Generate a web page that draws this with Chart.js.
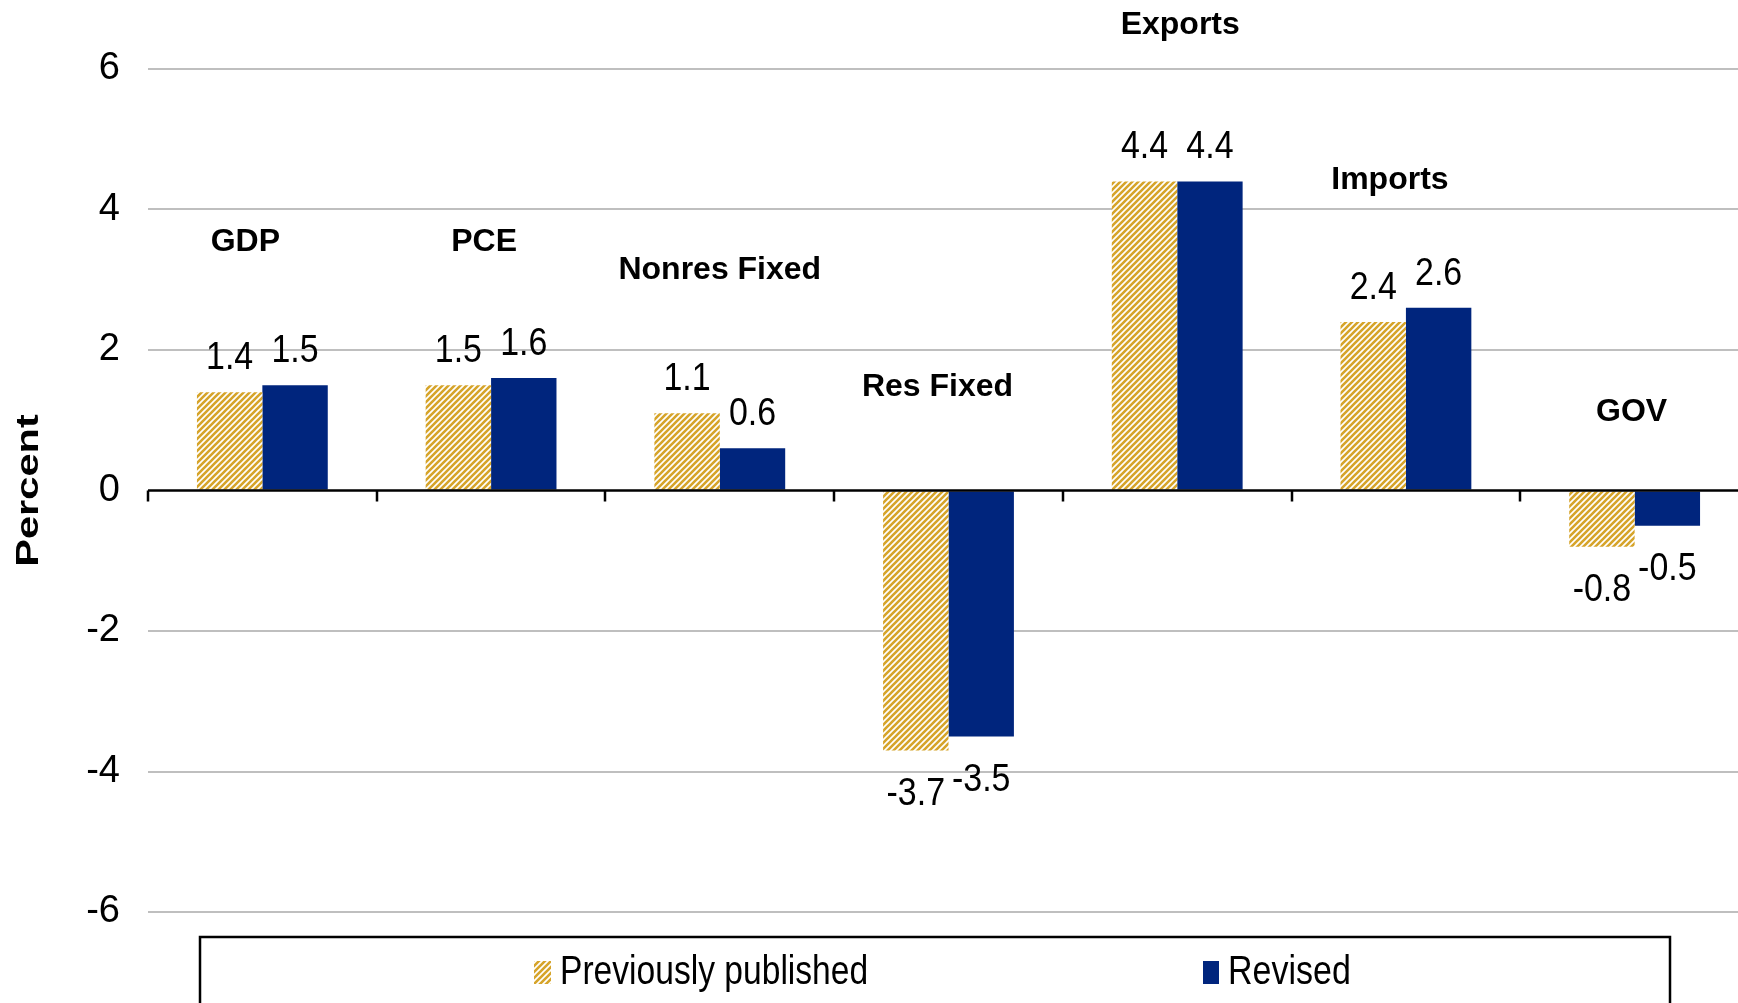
<!DOCTYPE html>
<html>
<head>
<meta charset="utf-8">
<script src="https://cdn.jsdelivr.net/npm/chart.js@4.4.1/dist/chart.umd.min.js"></script>
<style>
  html, body { margin: 0; padding: 0; background: #fff; overflow: hidden; }
  #wrap { width: 1750px; height: 1003px; position: relative; }
</style>
</head>
<body>
<div id="wrap"><canvas id="Chart"></canvas></div>
<script>
// data
const categories = ["GDP", "PCE", "Nonres Fixed", "Res Fixed", "Exports", "Imports", "GOV"];
const previouslyPublished = [1.4, 1.5, 1.1, -3.7, 4.4, 2.4, -0.8];
const revised = [1.5, 1.6, 0.6, -3.5, 4.4, 2.6, -0.5];
const yTicks = [-6, -4, -2, 0, 2, 4, 6];
// where the bold category names sit: height in axis units, nudge in px
const catLabelY = [3.53, 3.53, 3.13, 1.47, 6.62, 4.42, 1.12];
const catLabelDx = [-17, -7, 0, -11, 3, -16, -3];

const FONT = '"Liberation Sans", Arial, sans-serif';
const GOLD = "#D6A42A";
const BLUE = "#00257D";

// diagonal gold hatch like the excel pattern fill
function makeHatch() {
  const s = 6;
  const c = document.createElement("canvas");
  c.width = s;
  c.height = s;
  const g = c.getContext("2d");
  g.fillStyle = "#fff";
  g.fillRect(0, 0, s, s);
  g.strokeStyle = GOLD;
  g.lineWidth = 2.6;
  g.beginPath();
  g.moveTo(0, s);
  g.lineTo(s, 0);
  g.moveTo(-1, 1);
  g.lineTo(1, -1);
  g.moveTo(s - 1, s + 1);
  g.lineTo(s + 1, s - 1);
  g.stroke();
  return g.createPattern(c, "repeat");
}
const hatch = makeHatch();

function drawText(ctx, text, x, y, font, sx, align, baseline) {
  ctx.save();
  ctx.translate(x, y);
  ctx.scale(sx, 1);
  ctx.font = font;
  ctx.fillStyle = "#000";
  ctx.textAlign = align;
  ctx.textBaseline = baseline;
  ctx.fillText(text, 0, 0);
  ctx.restore();
}

const extras = {
  id: "extras",
  afterDatasetsDraw(chart) {
    const ctx = chart.ctx;
    const area = chart.chartArea;
    const x = chart.scales.x;
    const y = chart.scales.y;
    const y0 = y.getPixelForValue(0);
    const step = (area.right - area.left) / categories.length;

    // zero line with category tick marks hanging below it
    ctx.save();
    ctx.strokeStyle = "#000";
    ctx.lineWidth = 2.5;
    ctx.beginPath();
    ctx.moveTo(area.left, y0);
    ctx.lineTo(area.right, y0);
    for (let i = 0; i <= categories.length; i++) {
      const tx = Math.round(area.left + i * step);
      ctx.moveTo(tx, y0);
      ctx.lineTo(tx, y0 + 11);
    }
    ctx.stroke();
    ctx.restore();

    // value labels
    chart.data.datasets.forEach((ds, di) => {
      const meta = chart.getDatasetMeta(di);
      meta.data.forEach((bar, i) => {
        const v = ds.data[i];
        const ly = v >= 0 ? bar.y - 34 : bar.y + 44;
        drawText(ctx, v.toFixed(1), bar.x, ly, "39px " + FONT, 0.87, "center", "middle");
      });
    });

    // category names
    categories.forEach((c, i) => {
      drawText(ctx, c, x.getPixelForValue(i) + catLabelDx[i], y.getPixelForValue(catLabelY[i]), "bold 32px " + FONT, 1, "center", "middle");
    });

    // axis title
    ctx.save();
    ctx.translate(29, (area.top + area.bottom) / 2);
    ctx.rotate(-Math.PI / 2);
    drawText(ctx, "Percent", 0, 0, "bold 32px " + FONT, 1.3, "center", "middle");
    ctx.restore();

    // legend box
    ctx.save();
    ctx.strokeStyle = "#000";
    ctx.lineWidth = 2.5;
    ctx.strokeRect(200, 937, 1470, 100);
    ctx.fillStyle = hatch;
    ctx.fillRect(534, 961, 17, 23);
    ctx.fillStyle = BLUE;
    ctx.fillRect(1203, 961, 16, 23);
    ctx.restore();
    drawText(ctx, "Previously published", 560, 973, "40px " + FONT, 0.84, "left", "middle");
    drawText(ctx, "Revised", 1228, 973, "40px " + FONT, 0.85, "left", "middle");
  }
};

new Chart(document.getElementById("Chart"), {
  type: "bar",
  data: {
    labels: categories,
    datasets: [
      {
        label: "Previously published",
        data: previouslyPublished,
        backgroundColor: hatch,
        borderWidth: 0,
        categoryPercentage: 0.572,
        barPercentage: 1.0
      },
      {
        label: "Revised",
        data: revised,
        backgroundColor: BLUE,
        borderWidth: 0,
        categoryPercentage: 0.572,
        barPercentage: 1.0
      }
    ]
  },
  options: {
    responsive: true,
    maintainAspectRatio: false,
    animation: false,
    layout: {
      padding: { top: 69, bottom: 91, left: 0, right: 1 }
    },
    scales: {
      x: {
        display: false
      },
      y: {
        min: -6,
        max: 6,
        afterFit: (s) => { s.width = 148; },
        afterBuildTicks: (s) => { s.ticks = yTicks.map((v) => ({ value: v })); },
        border: { display: false },
        grid: {
          color: (c) => (c.tick && c.tick.value === 0 ? "rgba(0,0,0,0)" : "#BFBFBF"),
          lineWidth: 2,
          drawTicks: false
        },
        ticks: {
          color: "#000",
          padding: 28,
          font: { family: FONT, size: 38 }
        }
      }
    },
    plugins: {
      legend: { display: false },
      tooltip: { enabled: false }
    }
  },
  plugins: [extras]
});
</script>
</body>
</html>
